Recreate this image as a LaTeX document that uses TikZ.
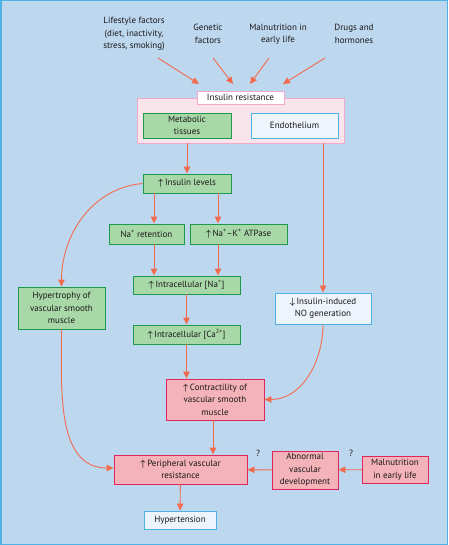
\documentclass[tikz,border=0pt]{standalone}
\usepackage{amsmath}
\usepackage{fontspec}
\setmainfont{PT Sans}
\usetikzlibrary{arrows.meta}

\definecolor{bgblue}{HTML}{BDD7EE}
\definecolor{frameblue}{HTML}{4DB3E6}
\definecolor{arrowred}{HTML}{F26B4F}
\definecolor{greenfill}{HTML}{A8D8A8}
\definecolor{greenline}{HTML}{1A9A4A}
\definecolor{pinkfill}{HTML}{F4B3B8}
\definecolor{pinkline}{HTML}{E0245E}
\definecolor{palefill}{HTML}{F9E4EC}
\definecolor{paleline}{HTML}{F2A9CC}
\definecolor{whitefill}{HTML}{EEF4FB}
\definecolor{inktext}{HTML}{1A1718}

\newcommand{\UpArr}{$\boldsymbol{\uparrow}$\,}
\newcommand{\DownArr}{$\boldsymbol{\downarrow}$\,}

\tikzset{
  box/.style={draw, line width=0.9pt, align=center, inner sep=1pt, text=inktext,
    font=\fontsize{9}{12.5}\selectfont},
  greenbox/.style={box, draw=greenline, fill=greenfill},
  pinkbox/.style={box, draw=pinkline, fill=pinkfill},
  bluebox/.style={box, draw=frameblue, fill=whitefill},
  factor/.style={align=center, inner sep=0pt, text=inktext,
    font=\fontsize{9}{12.5}\selectfont},
  arr/.style={draw=arrowred, line width=0.9pt, -{Triangle[length=7pt,width=6.5pt]}},
}

\begin{document}
\begin{tikzpicture}[x=1pt,y=-1pt]
  % Background and frame
  \useasboundingbox (0,0) rectangle (448,545);
  \fill[bgblue] (0,0) rectangle (448,545);
  \draw[frameblue, line width=1.5pt] (0.75,0.75) rectangle (447.25,544.25);

  % Causes of insulin resistance
  \foreach \n/\x/\txt in {life/134/{Lifestyle factors\\(diet, inactivity,\\stress, smoking)},
                          gene/208/{Genetic\\factors},
                          maln/278/{Malnutrition in\\early life},
                          drug/354/{Drugs and\\hormones}} {
    \node[factor] (\n) at (\x,34) {\txt};
  }
  \coordinate (lifeA) at (158,58);  \coordinate (lifeB) at (199,84);
  \coordinate (geneA) at (213,58);  \coordinate (geneB) at (233,84);
  \coordinate (malnA) at (269,58);  \coordinate (malnB) at (250,84);
  \coordinate (drugA) at (325,58);  \coordinate (drugB) at (283,84);
  \foreach \n in {life, gene, maln, drug} {
    \draw[arr] (\n A) -- (\n B);
  }

  % Insulin resistance frame
  \node[draw=paleline, fill=palefill, line width=0.9pt, minimum width=207pt,
        minimum height=45pt, inner sep=0pt] (irframe) at (240.5,120.5) {};
  \node[box, draw=paleline, fill=white, minimum width=87pt, minimum height=13pt,
        inner sep=0pt] (irlabel) at (240.5,97.5) {Insulin resistance};
  \node[greenbox, minimum width=88pt, minimum height=25pt] (metab) at (187,125.5) {Metabolic\\tissues};
  \node[bluebox, minimum width=87pt, minimum height=25pt] (endo) at (294.5,125.5) {Endothelium};

  % Metabolic pathway
  \node[greenbox, minimum width=88pt, minimum height=19pt] (inslev) at (187,183.5) {\UpArr Insulin levels};
  \node[greenbox, minimum width=75pt, minimum height=20pt] (naret) at (146.5,234) {Na\textsuperscript{+} retention};
  \node[greenbox, minimum width=97pt, minimum height=20pt] (nak) at (238.5,234) {\UpArr Na\textsuperscript{+}--K\textsuperscript{+} ATPase};
  \node[greenbox, minimum width=107pt, minimum height=18pt] (intna) at (186.5,285) {\UpArr Intracellular [Na\textsuperscript{+}]};
  \node[greenbox, minimum width=107pt, minimum height=19pt] (intca) at (186.5,334.5) {\UpArr Intracellular [Ca\textsuperscript{2+}]};
  \node[greenbox, minimum width=87pt, minimum height=42pt] (hyper) at (61.5,308) {Hypertrophy of\\vascular smooth\\muscle};
  \node[bluebox, minimum width=96pt, minimum height=31pt] (nogen) at (323,308.5) {\DownArr Insulin-induced\\NO generation};

  % Vascular outcome
  \node[pinkbox, minimum width=98pt, minimum height=41pt] (contr) at (215,399.5) {\UpArr Contractility of\\vascular smooth\\muscle};
  \node[pinkbox, minimum width=133pt, minimum height=29pt] (periph) at (180.5,469.5) {\UpArr Peripheral vascular\\resistance};
  \node[pinkbox, minimum width=66pt, minimum height=38pt] (abnorm) at (305,470) {Abnormal\\vascular\\development};
  \node[pinkbox, minimum width=66pt, minimum height=27pt] (malbox) at (395,469.5) {Malnutrition\\in early life};
  \node[bluebox, minimum width=72pt, minimum height=18pt] (hyperten) at (180,520) {Hypertension};
  \node[factor] (q1) at (258,453) {?};
  \node[factor] (q2) at (351,453) {?};

  % Connectors
  \draw[arr] (irframe.south -| metab) -- (inslev);
  \draw[arr] (irframe.south -| nogen) -- (nogen);
  \draw[arr] ([xshift=-33pt]inslev.south) -- ([xshift=7.5pt]naret.north);
  \draw[arr] ([xshift=31pt]inslev.south) -- ([xshift=-20.5pt]nak.north);
  \draw[arr] ([xshift=7.5pt]naret.south) -- ([xshift=-32.5pt]intna.north);
  \draw[arr] ([xshift=-20.5pt]nak.south) -- ([xshift=31.5pt]intna.north);
  \draw[arr] (intna) -- (intca);
  \draw[arr] (intca.south) -- ([xshift=-28.5pt]contr.north);
  \draw[arr] (inslev.west) to[out=185,in=90] (hyper.north);
  \draw[arr] (hyper.south) to[out=-90,in=180] ([yshift=1.5pt]periph.west);
  \draw[arr] (nogen.south) to[out=-90,in=0] (contr.east);
  \draw[arr] ([xshift=-2pt]contr.south) -- ([xshift=32.5pt]periph.north);
  \draw[arr] (periph) -- (hyperten);
  \draw[arr] (abnorm) -- (periph);
  \draw[arr] (malbox) -- (abnorm);
\end{tikzpicture}
\end{document}
